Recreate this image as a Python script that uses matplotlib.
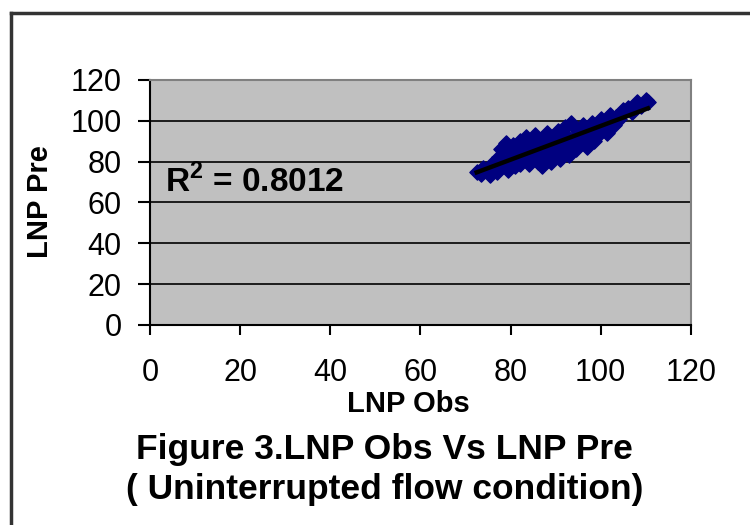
import numpy as np
import matplotlib

matplotlib.use("Agg")
import matplotlib.pyplot as plt
from matplotlib.lines import Line2D

plt.rcParams["font.family"] = ["Liberation Sans", "DejaVu Sans"]
plt.rcParams["mathtext.fontset"] = "custom"
plt.rcParams["mathtext.rm"] = "Liberation Sans"
plt.rcParams["mathtext.bf"] = "Liberation Sans:bold"

lnp_obs = [72.5, 73.5, 74.0, 75.0, 75.5, 76.0, 76.5, 77.0, 77.5, 78.0, 78.0, 78.5,
           79.0, 79.5, 80.0, 80.0, 80.5, 81.0, 81.0, 81.5, 82.0, 82.0, 82.5, 83.0,
           83.0, 83.5, 84.0, 84.0, 84.5, 85.0, 85.0, 85.5, 86.0, 86.0, 86.5, 87.0,
           87.0, 87.5, 88.0, 88.0, 88.5, 89.0, 89.0, 89.5, 90.0, 90.0, 90.5, 91.0,
           91.0, 91.5, 92.0, 92.0, 92.5, 93.0, 93.0, 93.5, 94.0, 94.5, 95.0, 95.5,
           96.0, 96.5, 97.0, 97.5, 98.0, 98.5, 99.0, 99.5, 100.0, 100.5, 101.0,
           101.5, 102.0, 103.0, 103.5, 104.0, 105.0, 106.0, 107.0, 108.0, 109.0,
           110.0, 110.5]
lnp_pre = [75, 74, 77, 76, 73.5, 79, 77, 75, 82, 78, 86, 80,
           89, 76, 84, 81, 88, 78, 86, 82, 90, 79, 85, 88,
           81, 92, 84, 79, 89, 86, 82, 93, 88, 80, 84, 91,
           78, 86, 94, 82, 89, 85, 80, 92, 88, 83, 95, 86,
           81, 90, 97, 84, 92, 88, 83, 99, 91, 86, 95, 89,
           98, 92, 87, 95, 99, 90, 97, 93, 101, 96, 99,
           94, 103, 98, 102, 101, 105, 106, 104, 109, 107,
           110, 109]
r2_text = r"R$^\mathbf{2}$ = 0.8012"
ticks = [0, 20, 40, 60, 80, 100, 120]

fig = plt.figure(figsize=(7.5, 5.25), dpi=100)
ax = fig.add_axes([0.2, 0.381, 0.721, 0.467])
ax.set_facecolor("#c0c0c0")

ax.scatter(lnp_obs, lnp_pre, marker="D", s=60, color="#000080", edgecolors="#000080",
           zorder=3)

# linear trend line
b, a = np.polyfit(lnp_obs, lnp_pre, 1)
xs = np.array([min(lnp_obs), max(lnp_obs)])
ax.plot(xs, a + b * xs, color="black", linewidth=3.2, zorder=4)

ax.set_xlim(0, 120)
ax.set_ylim(0, 120)
ax.set_xticks(ticks)
ax.set_yticks(ticks)
ax.yaxis.grid(True, color="black", linewidth=1.2)
ax.set_axisbelow(True)
for side in ("top", "right"):
    ax.spines[side].set_color("#808080")
    ax.spines[side].set_linewidth(1.5)
for side in ("left", "bottom"):
    ax.spines[side].set_color("black")
    ax.spines[side].set_linewidth(1.5)
ax.tick_params(axis="x", length=7, width=1.5, pad=17, labelsize=22)
ax.tick_params(axis="y", length=8.5, width=1.5, pad=12, labelsize=22)

ax.text(3.3, 70.2, r2_text, fontsize=24, fontweight="bold", va="center", ha="left")

fig.text(0.545, 0.230, "LNP Obs", fontsize=21, fontweight="bold", ha="center", va="center")
fig.text(0.053, 0.617, "LNP Pre", fontsize=21, fontweight="bold", ha="center", va="center",
         rotation=90)
fig.text(0.513, 0.143, "Figure 3.LNP Obs Vs LNP Pre", fontsize=25.5, fontweight="bold",
         ha="center", va="center")
fig.text(0.513, 0.067, "( Uninterrupted flow condition)", fontsize=25.5, fontweight="bold",
         ha="center", va="center")

# outer frame, clipped by the image edges on the right and bottom
fig.add_artist(Line2D([0.015, 0.015], [-0.1, 0.975], color="#333333", linewidth=2.5))
fig.add_artist(Line2D([0.015, 1.1], [0.975, 0.975], color="#333333", linewidth=2.5))

fig.savefig("out.png", dpi=100)
